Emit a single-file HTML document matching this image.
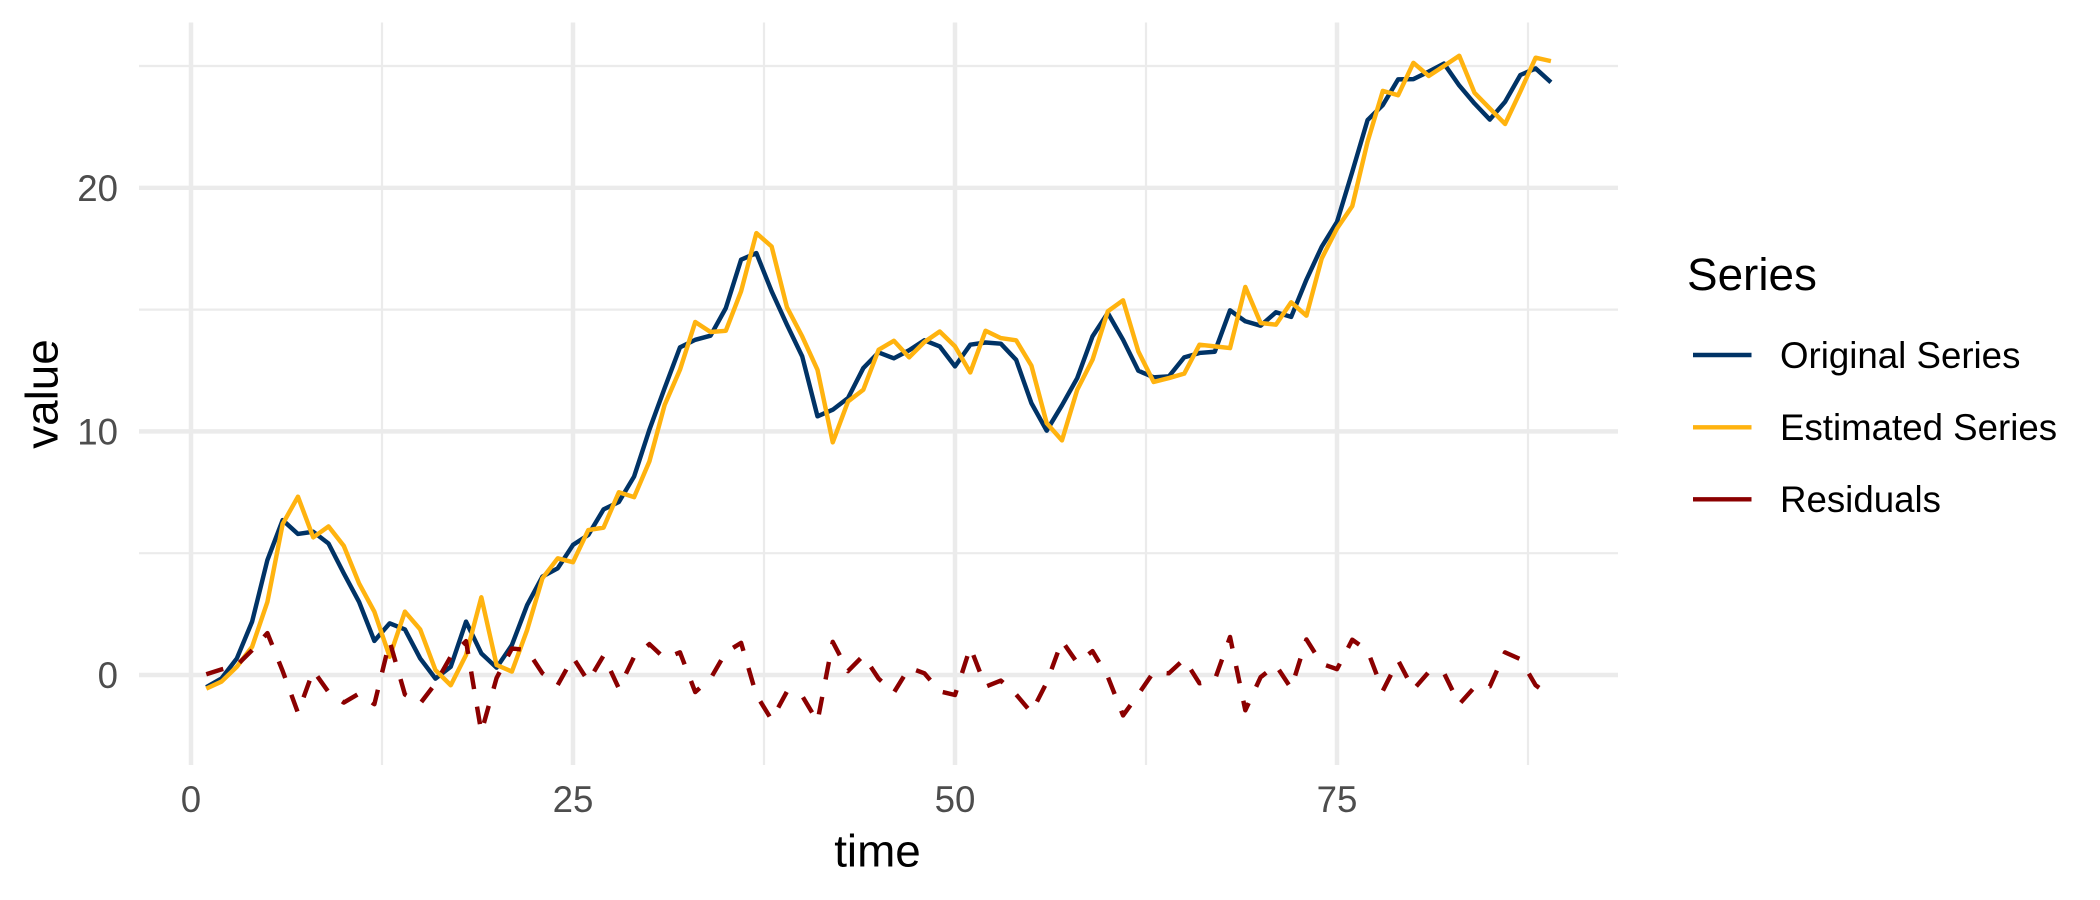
<!DOCTYPE html>
<html lang="en">
<head>
<meta charset="utf-8">
<title>Original vs Estimated Series</title>
<style>
  html, body { margin: 0; padding: 0; background: #ffffff; }
  svg { display: block; }
  text { font-family: "Liberation Sans", Arial, sans-serif; }
</style>
</head>
<body>
<svg id="chart" xmlns="http://www.w3.org/2000/svg" width="2100" height="900" viewBox="0 0 2100 900">
  <rect x="0" y="0" width="2100" height="900" fill="#ffffff"/>
  <g id="grid"></g>
  <g id="x-ticks"></g>
  <g id="y-ticks"></g>
  <g id="series"></g>
  <text x="877.5" y="866.5" font-size="45.83" text-anchor="middle" fill="#000000">time</text>
  <text transform="translate(57.5,394) rotate(-90)" font-size="45.83" text-anchor="middle" fill="#000000">value</text>
  <g>
    <text x="1687" y="290" font-size="45.83" fill="#000000">Series</text>
    <g>
      <line x1="1693" y1="355" x2="1751.5" y2="355" stroke="#003366" stroke-width="4.45"/>
      <text x="1780" y="368" font-size="36.67" fill="#000000">Original Series</text>
    </g>
    <g>
      <line x1="1693" y1="427.3" x2="1751.5" y2="427.3" stroke="#FFB30F" stroke-width="4.45"/>
      <text x="1780" y="440" font-size="36.67" fill="#000000">Estimated Series</text>
    </g>
    <g>
      <line x1="1693" y1="499.3" x2="1751.5" y2="499.3" stroke="#8B0000" stroke-width="4.45"/>
      <text x="1780" y="512" font-size="36.67" fill="#000000">Residuals</text>
    </g>
  </g>
</svg>
<script>
const timePoints = [1,2,3,4,5,6,7,8,9,10,11,12,13,14,15,16,17,18,19,20,21,22,23,24,25,26,27,28,29,30,31,32,33,34,35,36,37,38,39,40,41,42,43,44,45,46,47,48,49,50,51,52,53,54,55,56,57,58,59,60,61,62,63,64,65,66,67,68,69,70,71,72,73,74,75,76,77,78,79,80,81,82,83,84,85,86,87,88,89];
const originalSeries = [-0.5,-0.14,0.68,2.19,4.72,6.36,5.79,5.88,5.4,4.17,3.0,1.4,2.12,1.87,0.68,-0.15,0.34,2.19,0.89,0.3,1.23,2.87,4.04,4.38,5.34,5.75,6.8,7.1,8.15,10.07,11.78,13.45,13.76,13.93,15.06,17.05,17.32,15.75,14.38,13.08,10.62,10.89,11.37,12.6,13.24,13.0,13.33,13.74,13.49,12.67,13.56,13.65,13.6,12.94,11.16,10.03,11.07,12.19,13.9,14.86,13.76,12.49,12.22,12.26,13.04,13.22,13.27,14.97,14.52,14.34,14.89,14.7,16.23,17.58,18.6,20.66,22.78,23.4,24.45,24.46,24.77,25.1,24.2,23.46,22.8,23.53,24.63,24.9,24.33];
const estimatedSeries = [-0.56,-0.27,0.34,1.16,3.0,6.2,7.32,5.65,6.1,5.3,3.76,2.6,0.75,2.6,1.87,0.2,-0.42,0.82,3.19,0.41,0.14,1.85,3.97,4.79,4.63,5.95,6.05,7.5,7.3,8.77,11.09,12.53,14.49,14.08,14.13,15.75,18.14,17.59,15.1,13.9,12.53,9.55,11.23,11.71,13.35,13.72,13.04,13.67,14.1,13.49,12.42,14.13,13.83,13.74,12.7,10.34,9.63,11.71,12.94,14.93,15.38,13.28,12.03,12.19,12.37,13.56,13.49,13.42,15.93,14.45,14.38,15.3,14.75,17.1,18.33,19.25,21.89,23.98,23.8,25.13,24.59,25.0,25.42,23.9,23.26,22.62,23.95,25.34,25.2];
const residualSeries = [0.03,0.23,0.4,1.02,1.72,0.16,-1.55,0.18,-0.7,-1.13,-0.76,-1.2,1.38,-0.8,-1.17,-0.35,0.76,1.39,-2.35,-0.12,1.09,1.02,0.07,-0.41,0.72,-0.26,0.8,-0.55,0.75,1.27,0.68,0.93,-0.7,-0.15,0.93,1.32,-0.82,-1.84,-0.68,-0.86,-1.91,1.36,0.16,0.8,-0.15,-0.72,0.3,0.07,-0.67,-0.82,1.14,-0.48,-0.23,-0.8,-1.54,-0.31,1.4,0.5,0.98,-0.07,-1.66,-0.79,0.12,0.07,0.65,-0.34,-0.2,1.56,-1.45,-0.09,0.4,-0.55,1.46,0.46,0.24,1.45,1.0,-0.65,0.6,-0.6,0.12,0.08,-1.2,-0.5,-0.47,0.93,0.65,-0.42,-0.87];
const xMajorTicks = [0,25,50,75];
const xMinorTicks = [12.5,37.5,62.5,87.5];
const yMajorTicks = [0,10,20];
const yMinorTicks = [5,15,25];
const xTickLabels = ["0","25","50","75"];
const yTickLabels = ["0","10","20"];

const SVG_NS = "http://www.w3.org/2000/svg";
const panelLeft = 139, panelRight = 1618, panelTop = 22.5, panelBottom = 765;
function xScale(t) { return 191 + 15.28 * t; }
function yScale(v) { return 675 - 24.36 * v; }

function makeLine(parent, x1, y1, x2, y2, width) {
  const el = document.createElementNS(SVG_NS, "line");
  el.setAttribute("x1", x1);
  el.setAttribute("y1", y1);
  el.setAttribute("x2", x2);
  el.setAttribute("y2", y2);
  el.setAttribute("stroke", "#EBEBEB");
  el.setAttribute("stroke-width", width);
  parent.appendChild(el);
  return el;
}

function makeLabel(parent, x, y, anchor, content) {
  const el = document.createElementNS(SVG_NS, "text");
  el.setAttribute("x", x);
  el.setAttribute("y", y);
  el.setAttribute("text-anchor", anchor);
  el.setAttribute("font-size", "36.67");
  el.setAttribute("fill", "#4D4D4D");
  el.textContent = content;
  parent.appendChild(el);
  return el;
}

function makePath(parent, values, color, dash) {
  const d = values.map(function (v, i) {
    return (i === 0 ? "M" : "L") + xScale(timePoints[i]).toFixed(2) + " " + yScale(v).toFixed(2);
  }).join(" ");
  const el = document.createElementNS(SVG_NS, "path");
  el.setAttribute("d", d);
  el.setAttribute("fill", "none");
  el.setAttribute("stroke", color);
  el.setAttribute("stroke-width", "4.45");
  el.setAttribute("stroke-linejoin", "round");
  el.setAttribute("stroke-linecap", "butt");
  if (dash) el.setAttribute("stroke-dasharray", dash);
  parent.appendChild(el);
  return el;
}

const gridGroup = document.getElementById("grid");
yMinorTicks.forEach(function (v) {
  const el = makeLine(gridGroup, panelLeft, yScale(v), panelRight, yScale(v), 2.22);
  
  
});
xMinorTicks.forEach(function (t) {
  const el = makeLine(gridGroup, xScale(t), panelTop, xScale(t), panelBottom, 2.22);
  
  
});
yMajorTicks.forEach(function (v) {
  const el = makeLine(gridGroup, panelLeft, yScale(v), panelRight, yScale(v), 4.45);
  
  
});
xMajorTicks.forEach(function (t) {
  const el = makeLine(gridGroup, xScale(t), panelTop, xScale(t), panelBottom, 4.45);
  
  
});

const xTickGroup = document.getElementById("x-ticks");
xMajorTicks.forEach(function (t, i) {
  const el = makeLabel(xTickGroup, xScale(t), 812, "middle", xTickLabels[i]);
  
  
});

const yTickGroup = document.getElementById("y-ticks");
yMajorTicks.forEach(function (v, i) {
  const el = makeLabel(yTickGroup, 118, yScale(v) + 13, "end", yTickLabels[i]);
  
  
});

const seriesGroup = document.getElementById("series");
const originalLine = makePath(seriesGroup, originalSeries, "#003366", null);


const estimatedLine = makePath(seriesGroup, estimatedSeries, "#FFB30F", null);


const residualLine = makePath(seriesGroup, residualSeries, "#8B0000", "17.8 17.8");


</script>
</body>
</html>
